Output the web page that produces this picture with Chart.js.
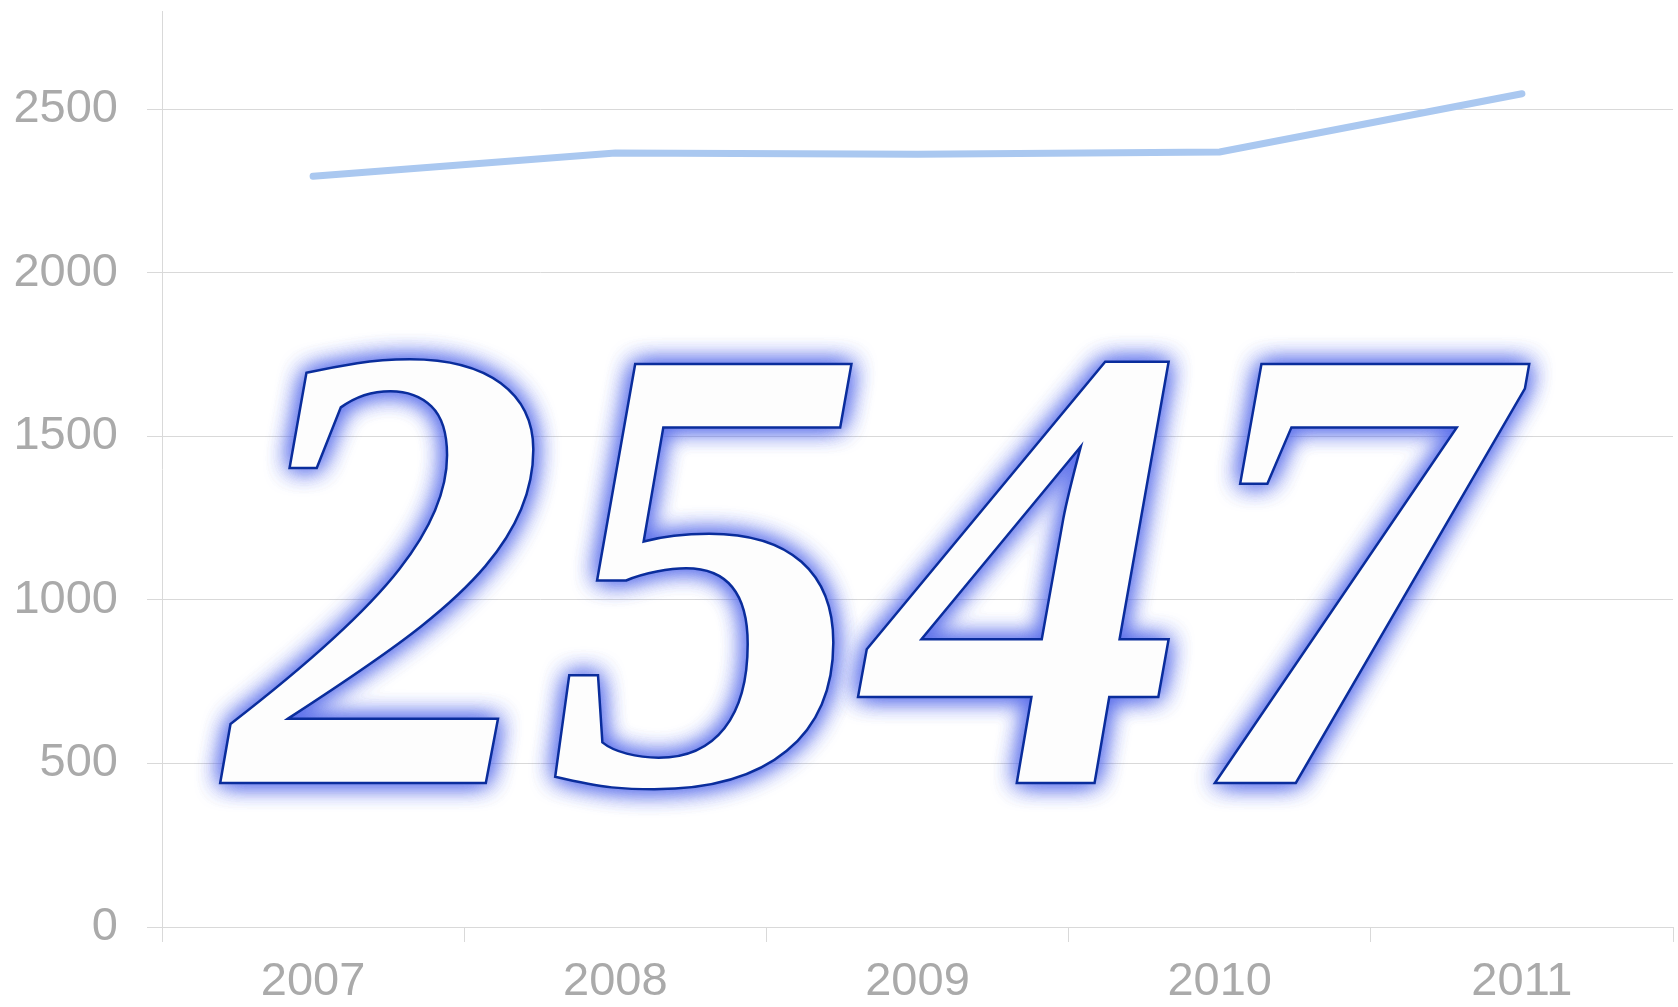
<!DOCTYPE html>
<html lang="en">
<head>
    <meta charset="UTF-8">
    <title>2547</title>
    <style>
        html, body {
            margin: 0;
            padding: 0;
            background: #ffffff;
        }
        .wrap {
            position: relative;
            width: 1678px;
            height: 1007px;
        }
    </style>
</head>
<body>
    <div class="wrap">
        <canvas id="lineChart"></canvas>
    </div>

    <script src="https://cdn.jsdelivr.net/npm/chart.js"></script>
    <script>
        // data
        const years = ['2007', '2008', '2009', '2010', '2011'];
        const values = [2295, 2366, 2362, 2369, 2547];
        const yTicks = [0, 500, 1000, 1500, 2000, 2500];

        // big outlined number = last value of the series
        const bigNumber = {
            id: 'bigNumber',
            afterDraw(chart) {
                const ctx = chart.ctx;
                const data = chart.data.datasets[0].data;
                const text = String(data[data.length - 1]);
                ctx.save();
                ctx.font = 'italic bold 640px "Liberation Serif", "Times New Roman", serif';
                ctx.textAlign = 'center';
                ctx.textBaseline = 'alphabetic';
                const x = 868, y = 783;
                // soft blue halo
                ctx.shadowColor = 'rgba(90, 110, 235, 0.8)';
                ctx.shadowBlur = 24;
                ctx.fillStyle = '#fdfdfd';
                ctx.fillText(text, x, y);
                ctx.fillText(text, x, y);
                ctx.fillText(text, x, y);
                ctx.shadowColor = 'transparent';
                ctx.shadowBlur = 0;
                ctx.lineWidth = 2.5;
                ctx.strokeStyle = '#0a2d9c';
                ctx.strokeText(text, x, y);
                ctx.restore();
            }
        };

        const tickFont = { family: '"Liberation Sans", Arial, sans-serif', size: 47 };

        new Chart(document.getElementById('lineChart'), {
            type: 'line',
            data: {
                labels: years,
                datasets: [{
                    data: values,
                    borderColor: '#aac8f0',
                    borderWidth: 7,
                    borderCapStyle: 'round',
                    pointRadius: 0,
                    tension: 0,
                    fill: false
                }]
            },
            options: {
                responsive: true,
                maintainAspectRatio: false,
                animation: false,
                layout: { padding: { top: 11, right: 5, left: 0, bottom: 0 } },
                plugins: {
                    legend: { display: false },
                    tooltip: { enabled: false }
                },
                scales: {
                    x: {
                        offset: true,
                        afterFit(scale) {
                            scale.height = 80;
                            scale.paddingLeft = 0;
                            scale.paddingRight = 0;
                        },
                        grid: {
                            offset: true,
                            drawOnChartArea: false,
                            color: '#d9d9d9',
                            tickLength: 15
                        },
                        border: { color: '#d9d9d9' },
                        ticks: {
                            color: '#aaaaaa',
                            font: tickFont,
                            padding: 12,
                            maxRotation: 0
                        }
                    },
                    y: {
                        min: 0,
                        max: 2800,
                        afterBuildTicks(axis) {
                            axis.ticks = yTicks.map(v => ({ value: v }));
                        },
                        afterFit(scale) {
                            scale.width = 162;
                            scale.paddingTop = 0;
                            scale.paddingBottom = 0;
                        },
                        grid: {
                            color: '#d9d9d9',
                            tickLength: 15
                        },
                        border: { color: '#d9d9d9' },
                        ticks: {
                            color: '#aaaaaa',
                            font: tickFont,
                            padding: 29,
                            callback: v => String(v)
                        }
                    }
                }
            },
            plugins: [bigNumber]
        });
    </script>
</body>
</html>
